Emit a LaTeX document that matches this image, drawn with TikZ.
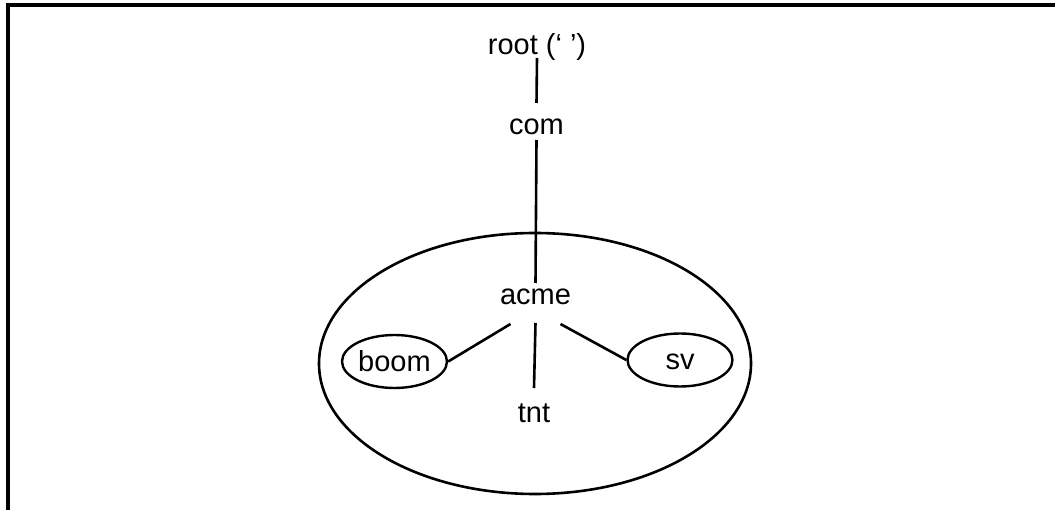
\documentclass[tikz,border=0pt]{standalone}
\usepackage{fontspec}
\setmainfont{Liberation Sans}
\usetikzlibrary{shapes.geometric}
\begin{document}
\begin{tikzpicture}[x=1pt,y=-1pt,
  lbl/.style={font=\fontsize{29}{34}\selectfont, inner sep=0pt, anchor=base},
  leaf/.style={draw, ellipse, line width=2.4pt, minimum width=105pt, minimum height=53pt,
               inner sep=0pt, text height=20pt, text depth=0pt, font=\fontsize{29}{34}\selectfont},
  edge/.style={line width=2.6pt},
  frame/.style={line width=3.2pt}]
\useasboundingbox (0,0) rectangle (1055,510);
% open frame: top and left rules only
\draw[frame] (1055,5) -- (8,5) -- (8,512);
% domain outline around acme and its subdomains
\node[draw, ellipse, line width=2.6pt, minimum width=432pt, minimum height=261pt] (zone) at (535,363.5) {};
% domain names
\node[lbl] (root) at (537,55) {root (‘ ’)};
\node[lbl] (com) at (536.5,135) {com};
\node[lbl] (acme) at (535.5,305) {acme};
\node[lbl] (tnt) at (534,423) {tnt};
\node[leaf] (boom) at (394.5,361.5) {boom};
\node[leaf] (sv) at (680,360) {sv};
% tree edges
\draw[edge] ([yshift=-3pt]root.base) -- ([yshift=32pt]com.base);
\draw[edge] ([yshift=-5pt]com.base) -- ([yshift=22pt]acme.base);
\draw[edge] ([yshift=-18pt]acme.base) -- ([yshift=35pt]tnt.base);
\draw[edge] ([xshift=-25pt,yshift=-19pt]acme.base) -- (boom.east);
\draw[edge] ([xshift=25pt,yshift=-19pt]acme.base) -- (sv.west);
\end{tikzpicture}
\end{document}
